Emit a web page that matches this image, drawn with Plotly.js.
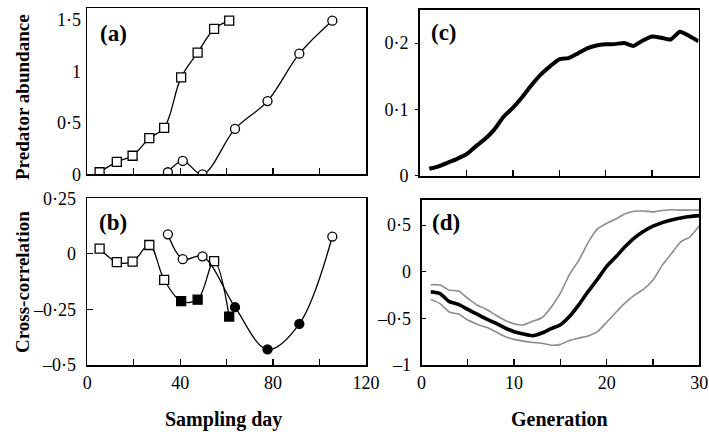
<!DOCTYPE html>
<html>
<head>
<meta charset="utf-8">
<script src="https://cdn.plot.ly/plotly-3.0.1.min.js"></script>
<style>html,body{margin:0;padding:0;background:#fff;}#chart{width:709px;height:435px;}</style>
</head>
<body>
<div id="chart"></div>
<script>
// ---- Data ----
// Panels (a) and (b): sampling days for the two series
const squareDays = [5.3, 12.7, 19.5, 26.7, 33.1, 40.4, 47.5, 54.6, 61.1];
const circleDays = [34.7, 41.1, 49.6, 63.6, 77.6, 91.3, 105.5];
// (a) predator abundance
const squareAbundance = [0.02, 0.12, 0.18, 0.35, 0.45, 0.94, 1.18, 1.41, 1.49];
const circleAbundance = [0.02, 0.13, 0.0, 0.44, 0.71, 1.17, 1.49];
// (b) cross-correlation, with significance (filled markers)
const squareCorr = [0.024, -0.037, -0.035, 0.04, -0.117, -0.213, -0.206, -0.033, -0.282];
const squareSig = [false, false, false, false, false, true, true, false, true];
const circleCorr = [0.088, -0.024, -0.011, -0.24, -0.43, -0.315, 0.078];
const circleSig = [false, false, false, true, true, true, false];
// (c), (d) generations
const generations = [1,2,3,4,5,6,7,8,9,10,11,12,13,14,15,16,17,18,19,20,21,22,23,24,25,26,27,28,29,30];
const cValues = [0.0105,0.0142,0.0198,0.0255,0.0323,0.0443,0.0553,0.0695,0.089,0.1025,0.1185,0.1365,0.1525,0.165,0.1755,0.1775,0.1845,0.192,0.1965,0.1982,0.1985,0.2003,0.1958,0.204,0.21,0.208,0.2055,0.2172,0.2108,0.2028];
const dMean = [-0.214,-0.234,-0.32,-0.35,-0.404,-0.455,-0.505,-0.552,-0.602,-0.643,-0.668,-0.686,-0.657,-0.61,-0.568,-0.477,-0.352,-0.21,-0.08,0.057,0.161,0.27,0.364,0.434,0.489,0.527,0.556,0.577,0.593,0.602];
const dUpper = [-0.139,-0.142,-0.198,-0.206,-0.286,-0.357,-0.402,-0.464,-0.52,-0.558,-0.57,-0.532,-0.493,-0.38,-0.228,-0.025,0.125,0.315,0.46,0.52,0.566,0.622,0.65,0.652,0.643,0.658,0.666,0.661,0.662,0.661];
const dLower = [-0.296,-0.342,-0.432,-0.454,-0.518,-0.562,-0.596,-0.643,-0.694,-0.725,-0.744,-0.758,-0.766,-0.788,-0.779,-0.737,-0.711,-0.688,-0.642,-0.541,-0.434,-0.333,-0.25,-0.187,-0.089,0.071,0.196,0.321,0.375,0.493];

// Tick labels
const aYVals = [0, 0.5, 1, 1.5], aYText = ['0', '0·5', '1', '1·5'];
const bYVals = [-0.5, -0.25, 0, 0.25], bYText = ['–0·5', '–0·25', '0', '0·25'];
const dayVals = [0, 20, 40, 60, 80, 100, 120], dayText = ['0', '', '40', '', '80', '', '120'];
const cYVals = [0, 0.1, 0.2], cYText = ['0', '0·1', '0·2'];
const dYVals = [-1, -0.5, 0, 0.5], dYText = ['–1', '–0·5', '0', '0·5'];
const genVals = [0, 5, 10, 15, 20, 25, 30], genText = ['0', '', '10', '', '20', '', '30'];

// ---- Plot ----
const W = 709, H = 435;
const fx = p => p / W, fy = p => 1 - p / H;
const font = 'Liberation Serif, Times New Roman, serif';
const fillOf = sig => sig.map(s => s ? 'black' : 'white');

const traces = [
  {x: squareDays, y: squareAbundance, xaxis: 'x', yaxis: 'y', mode: 'lines+markers',
   line: {color: 'black', width: 1.3, shape: 'spline', smoothing: 1},
   marker: {symbol: 'square', size: 9, color: 'white', line: {color: 'black', width: 1.3}}},
  {x: circleDays, y: circleAbundance, xaxis: 'x', yaxis: 'y', mode: 'lines+markers',
   line: {color: 'black', width: 1.3, shape: 'spline', smoothing: 1},
   marker: {symbol: 'circle', size: 9, color: 'white', line: {color: 'black', width: 1.3}}},
  {x: squareDays, y: squareCorr, xaxis: 'x2', yaxis: 'y2', mode: 'lines+markers',
   line: {color: 'black', width: 1.3, shape: 'spline', smoothing: 1},
   marker: {symbol: 'square', size: 9, color: fillOf(squareSig), line: {color: 'black', width: 1.3}}},
  {x: circleDays, y: circleCorr, xaxis: 'x2', yaxis: 'y2', mode: 'lines+markers',
   line: {color: 'black', width: 1.3, shape: 'spline', smoothing: 1},
   marker: {symbol: 'circle', size: 9, color: fillOf(circleSig), line: {color: 'black', width: 1.3}}},
  {x: generations, y: cValues, xaxis: 'x3', yaxis: 'y3', mode: 'lines',
   line: {color: 'black', width: 4, shape: 'spline', smoothing: 0.6}},
  {x: generations, y: dUpper, xaxis: 'x4', yaxis: 'y4', mode: 'lines',
   line: {color: '#8c8c8c', width: 1.6, shape: 'spline', smoothing: 0.6}},
  {x: generations, y: dLower, xaxis: 'x4', yaxis: 'y4', mode: 'lines',
   line: {color: '#8c8c8c', width: 1.6, shape: 'spline', smoothing: 0.6}},
  {x: generations, y: dMean, xaxis: 'x4', yaxis: 'y4', mode: 'lines',
   line: {color: 'black', width: 3.6, shape: 'spline', smoothing: 0.6}}
];

const axBase = {showgrid: false, zeroline: false, showline: true, linecolor: 'black', linewidth: 1.8,
  mirror: true, tickcolor: 'black', tickfont: {family: font, size: 18, color: 'black'}, fixedrange: true};
const xAx = (dom, rng, vals, text, anchor, showLabels) => Object.assign({}, axBase, {
  domain: dom, range: rng, anchor: anchor, tickmode: 'array', tickvals: vals, ticktext: text,
  ticks: 'inside', ticklen: 6, tickwidth: 1.4, showticklabels: showLabels, ticklabelstandoff: 1});
const yAx = (dom, rng, vals, text, anchor, tickDir, len, standoff) => Object.assign({}, axBase, {
  domain: dom, range: rng, anchor: anchor, tickmode: 'array', tickvals: vals, ticktext: text,
  ticks: tickDir, ticklen: len, tickwidth: 1.2, ticklabelstandoff: standoff});

const ann = (x, y, text, size, angle) => ({xref: 'paper', yref: 'paper', x: fx(x), y: fy(y),
  text: text, showarrow: false, textangle: angle || 0, xanchor: 'center', yanchor: 'middle',
  font: {family: font, size: size, color: 'black'}});

const layout = {
  width: W, height: H, showlegend: false, paper_bgcolor: 'white', plot_bgcolor: 'white',
  margin: {l: 0, r: 0, t: 0, b: 0},
  xaxis: xAx([fx(87.3), fx(366)], [0, 120], dayVals, dayText, 'y', false),
  yaxis: yAx([fy(174.3), fy(8.3)], [0, 1.61], aYVals, aYText, 'x', '', 0, 1),
  xaxis2: xAx([fx(87.3), fx(366)], [0, 120], dayVals, dayText, 'y2', true),
  yaxis2: yAx([fy(365), fy(198.3)], [-0.5, 0.25], bYVals, bYText, 'x2', 'inside', 6, 6),
  xaxis3: xAx([fx(420), fx(698.5)], [0, 30], genVals, genText, 'y3', false),
  yaxis3: yAx([fy(175.7), fy(10)], [0, 0.25], cYVals, cYText, 'x3', 'outside', 3, 3),
  xaxis4: xAx([fx(421.5), fx(699.3)], [0, 30], genVals, genText, 'y4', true),
  yaxis4: yAx([fy(365), fy(200)], [-1, 0.77], dYVals, dYText, 'x4', 'inside', 4, 5),
  annotations: [
    ann(113, 33, '<b>(a)</b>', 23), ann(113, 223, '<b>(b)</b>', 23),
    ann(444, 32, '<b>(c)</b>', 23), ann(446, 222, '<b>(d)</b>', 23),
    ann(22, 97, '<b>Predator abundance</b>', 19, -90),
    ann(22, 282, '<b>Cross-correlation</b>', 19, -90),
    ann(223.5, 419, '<b>Sampling day</b>', 20),
    ann(559, 419, '<b>Generation</b>', 20)
  ]
};

Plotly.newPlot('chart', traces, layout, {staticPlot: true, displayModeBar: false});
</script>
</body>
</html>
